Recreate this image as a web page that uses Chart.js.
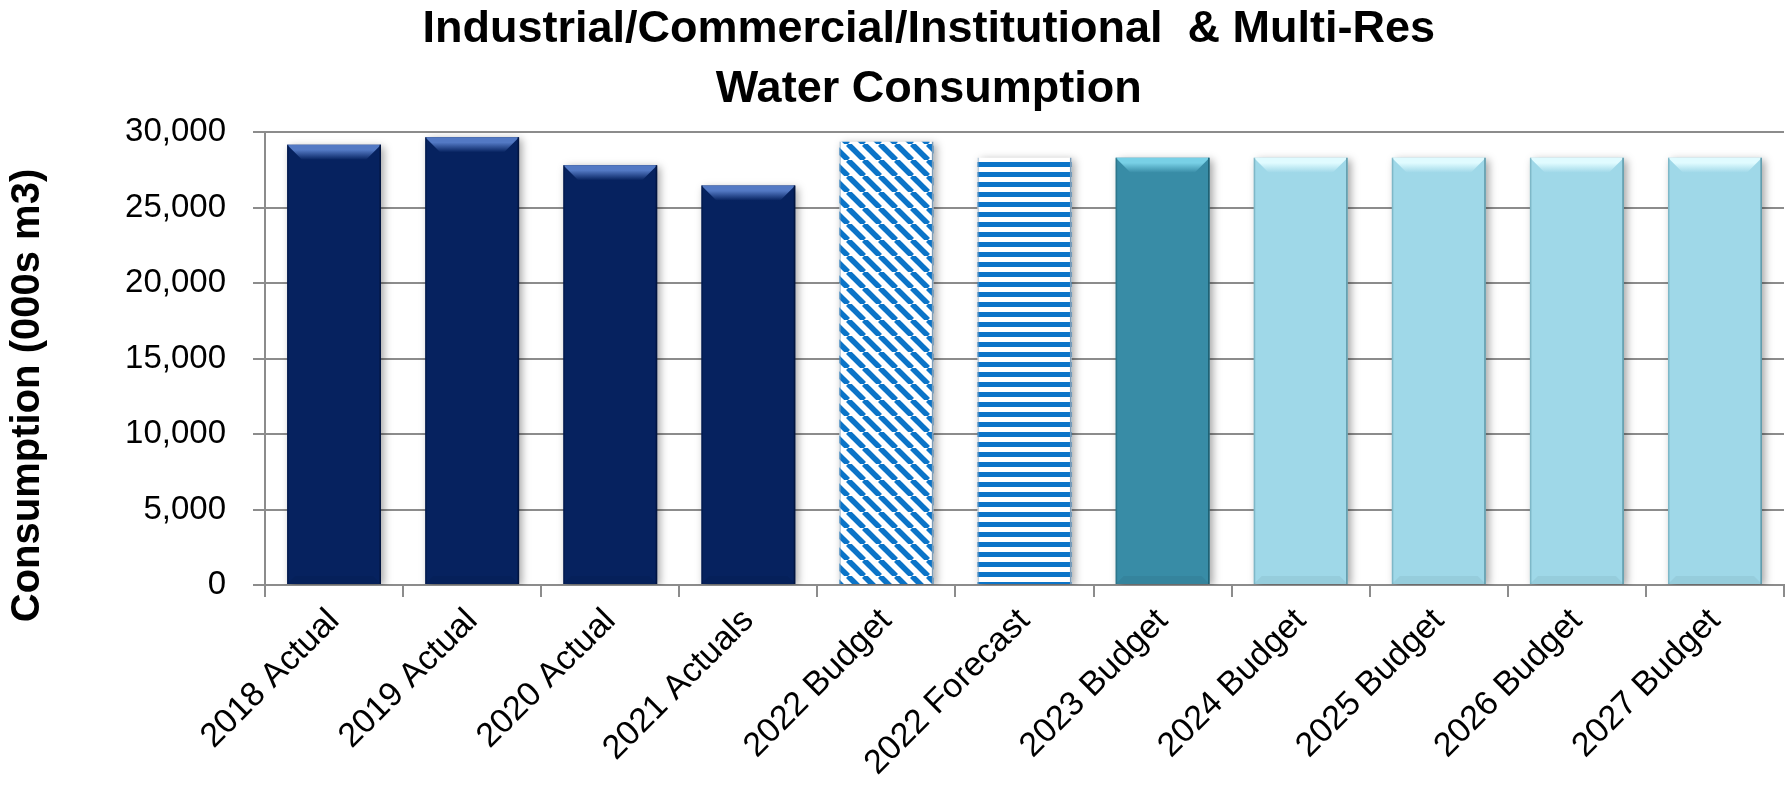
<!DOCTYPE html>
<html>
<head>
<meta charset="utf-8">
<title>ICI & Multi-Res Water Consumption</title>
<script src="https://cdn.jsdelivr.net/npm/chart.js@4.4.0/dist/chart.umd.min.js"></script>
<style>
  html, body { margin: 0; padding: 0; background: #fff; }
  #wrap { position: relative; width: 1786px; height: 798px; }
</style>
</head>
<body>
<div id="wrap"><canvas id="chart"></canvas></div>
<script>
// data (000s m3)
const categories = ['2018 Actual', '2019 Actual', '2020 Actual', '2021 Actuals', '2022 Budget',
    '2022 Forecast', '2023 Budget', '2024 Budget', '2025 Budget', '2026 Budget', '2027 Budget'];
const consumption = [29150, 29650, 27800, 26450, 29350, 28300, 28300, 28300, 28300, 28300, 28300];
const titleLines = ['Industrial/Commercial/Institutional  & Multi-Res', 'Water Consumption'];
const yAxisTitle = 'Consumption (000s m3)';
const yMax = 30000;
const yStep = 5000;

const FONT = "'Liberation Sans', Arial, sans-serif";

// fill style for each bar kind
function stripePattern(horizontal) {
    const c = document.createElement('canvas');
    const size = horizontal ? 10 : 16;
    c.width = size;
    c.height = size;
    const g = c.getContext('2d');
    g.fillStyle = '#ffffff';
    g.fillRect(0, 0, size, size);
    g.fillStyle = '#0b74c8';
    g.strokeStyle = '#0b74c8';
    if (horizontal) {
        g.fillRect(0, 2, size, 5);
    } else {
        g.lineWidth = 5.5;
        [-size, 0, size].forEach(o => {
            g.beginPath();
            g.moveTo(o, 0);
            g.lineTo(o + size, size);
            g.stroke();
        });
    }
    return g.createPattern(c, 'repeat');
}

const styles = {
    actual:   { fill: '#06225f', hi: '#5379c4', edge: '#021540' },
    diag:     { fill: stripePattern(false), hi: null, edge: '#7b9cb8' },
    horiz:    { fill: stripePattern(true), hi: null, edge: '#7b9cb8' },
    budget23: { fill: '#388ca6', hi: '#78d0e6', edge: '#1f5f72' },
    future:   { fill: '#9fd8e8', hi: '#e0fbff', edge: '#5d98a8' }
};
const barKind = ['actual', 'actual', 'actual', 'actual', 'diag', 'horiz',
    'budget23', 'future', 'future', 'future', 'future'];

// soft shadow + bevelled top like the office chart
const bevelPlugin = {
    id: 'bevel',
    beforeDatasetsDraw(chart) {
        const ctx = chart.ctx;
        ctx.save();
        ctx.shadowColor = 'rgba(0,0,0,0.35)';
        ctx.shadowBlur = 8;
        ctx.shadowOffsetX = 3;
        ctx.shadowOffsetY = 2;
    },
    afterDatasetsDraw(chart) {
        const ctx = chart.ctx;
        ctx.restore();
        const meta = chart.getDatasetMeta(0);
        meta.data.forEach((bar, i) => {
            const st = styles[barKind[i]];
            const left = bar.x - bar.width / 2;
            const right = bar.x + bar.width / 2;
            const top = bar.y;
            const bottom = bar.base;
            const b = 15;
            ctx.save();
            if (st.hi) {
                const gr = ctx.createLinearGradient(0, top, 0, top + b);
                gr.addColorStop(0, st.hi);
                gr.addColorStop(0.35, st.hi);
                gr.addColorStop(1, st.fill);
                ctx.fillStyle = gr;
                ctx.beginPath();
                ctx.moveTo(left, top);
                ctx.lineTo(right, top);
                ctx.lineTo(right - b, top + b);
                ctx.lineTo(left + b, top + b);
                ctx.closePath();
                ctx.fill();
                // faint bottom bevel
                ctx.fillStyle = 'rgba(0,0,0,0.05)';
                ctx.beginPath();
                ctx.moveTo(left, bottom);
                ctx.lineTo(right, bottom);
                ctx.lineTo(right - 8, bottom - 8);
                ctx.lineTo(left + 8, bottom - 8);
                ctx.closePath();
                ctx.fill();
            }
            ctx.strokeStyle = st.edge;
            ctx.lineWidth = 1.5;
            ctx.beginPath();
            ctx.moveTo(right - 0.75, top);
            ctx.lineTo(right - 0.75, bottom);
            ctx.stroke();
            ctx.globalAlpha = 0.5;
            ctx.beginPath();
            ctx.moveTo(left + 0.75, top);
            ctx.lineTo(left + 0.75, bottom);
            ctx.stroke();
            ctx.restore();
        });
    }
};

// two-line chart title and the y axis title, placed as in the original
const titlePlugin = {
    id: 'bigTitle',
    afterDraw(chart) {
        const ctx = chart.ctx;
        const area = chart.chartArea;
        ctx.save();
        ctx.fillStyle = '#000';
        ctx.font = 'bold 45px ' + FONT;
        ctx.textAlign = 'center';
        ctx.textBaseline = 'middle';
        const cx = chart.width * 0.52;
        titleLines.forEach((line, i) => {
            ctx.fillText(line, cx, 30 + i * 60);
        });
        ctx.font = 'bold 40px ' + FONT;
        ctx.translate(28, (area.top + area.bottom) / 2 + 37);
        ctx.rotate(-Math.PI / 2);
        ctx.fillText(yAxisTitle, 0, 0);
        ctx.restore();
    }
};

const ctx = document.getElementById('chart').getContext('2d');

new Chart(ctx, {
    type: 'bar',
    data: {
        labels: categories,
        datasets: [{
            label: 'Consumption',
            data: consumption,
            backgroundColor: barKind.map(k => styles[k].fill),
            borderWidth: 0,
            categoryPercentage: 1,
            barPercentage: 0.68
        }]
    },
    options: {
        responsive: true,
        maintainAspectRatio: false,
        animation: false,
        layout: {
            padding: { top: 132, right: 2, bottom: 0, left: 0 }
        },
        plugins: {
            legend: { display: false },
            tooltip: { enabled: false },
            title: { display: false }
        },
        scales: {
            x: {
                grid: {
                    display: true,
                    drawOnChartArea: false,
                    drawTicks: true,
                    tickLength: 12,
                    color: '#8c8c8c',
                    lineWidth: 2
                },
                border: { color: '#8c8c8c', width: 2 },
                ticks: {
                    minRotation: 45,
                    maxRotation: 45,
                    padding: 4,
                    color: '#000',
                    font: { family: FONT, size: 34 }
                },
                afterFit(scale) {
                    scale.height = 213;
                    scale.paddingLeft = 0;
                    scale.paddingRight = 0;
                }
            },
            y: {
                min: 0,
                max: yMax,
                ticks: {
                    stepSize: yStep,
                    padding: 27,
                    color: '#000',
                    font: { family: FONT, size: 33 },
                    callback: v => v.toLocaleString('en-US')
                },
                grid: {
                    color: '#8c8c8c',
                    lineWidth: 2,
                    tickLength: 12
                },
                border: { color: '#8c8c8c', width: 2 },
                afterFit(scale) {
                    scale.width = 265;
                    scale.paddingTop = 0;
                    scale.paddingBottom = 0;
                }
            }
        }
    },
    plugins: [bevelPlugin, titlePlugin]
});
</script>
</body>
</html>
